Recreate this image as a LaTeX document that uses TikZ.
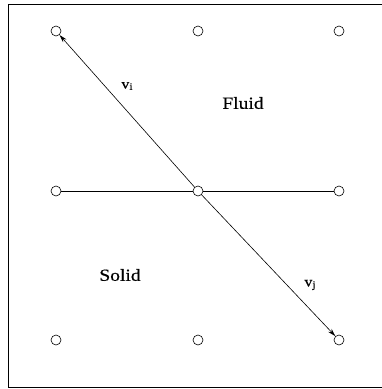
\documentclass[tikz,border=0pt]{standalone}
\usepackage{fontspec}
\setmainfont{Liberation Serif}
\newfontfamily\lbl[FakeStretch=1.15,FakeBold=0.3]{Liberation Serif}
\usetikzlibrary{arrows.meta}
\begin{document}
\begin{tikzpicture}[x=1pt,y=-1pt,
  pt/.style={circle,draw,line width=0.6pt,minimum size=10pt,inner sep=0pt},
  link/.style={line width=0.6pt},
  vec/.style={line width=0.6pt,-{Stealth[length=8pt,width=4.5pt]}},
  region/.style={font=\lbl\fontsize{17}{19}\selectfont},
  vlabel/.style={font=\lbl\fontsize{14}{16}\selectfont}]
\useasboundingbox (0,0) rectangle (382,389);
\draw[line width=1.3pt] (382,4.5) -- (8.5,4.5) -- (8.5,387.5) -- (382,387.5);
\node[pt] (a1) at (56,31) {};
\node[pt] (a2) at (198,31) {};
\node[pt] (a3) at (339,31) {};
\node[pt] (b1) at (56,191) {};
\node[pt] (b2) at (198,191) {};
\node[pt] (b3) at (339,191) {};
\node[pt] (c1) at (56,340) {};
\node[pt] (c2) at (198,340) {};
\node[pt] (c3) at (339,340) {};
\draw[link] (b1) -- (b2);
\draw[link] (b2) -- (b3);
\draw[vec] (b2) -- (a1);
\draw[vec] (b2) -- (c3);
\node[vlabel] (vi) at (127,86) {v\raisebox{-1.5pt}{\fontsize{10}{11}\selectfont i}};
\node[vlabel] (vj) at (310,285) {v\raisebox{-1.5pt}{\fontsize{10}{11}\selectfont j}};
\node[region] (fluid) at (243,103) {Fluid};
\node[region] (solid) at (120,275) {Solid};
\end{tikzpicture}
\end{document}
